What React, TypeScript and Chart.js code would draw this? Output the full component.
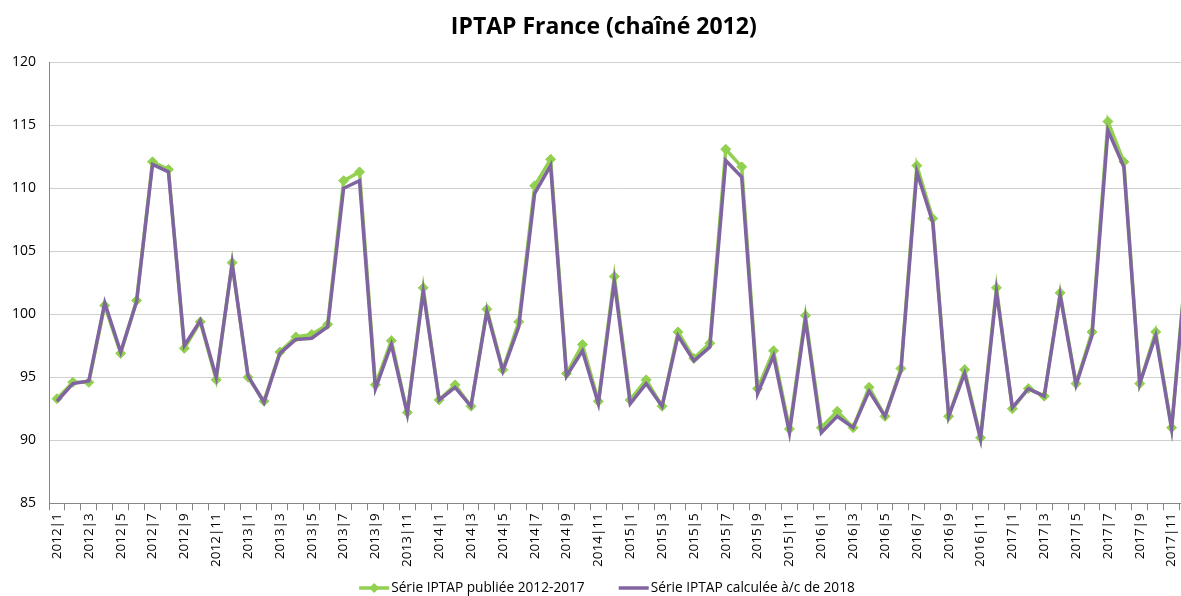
import React, { useEffect, useRef } from "react";
import { Chart, registerables } from "chart.js";

Chart.register(...registerables);

const TITLE = "IPTAP France (chaîné 2012)";
const YEARS = [2012, 2013, 2014, 2015, 2016, 2017];
const MONTHS = [1, 2, 3, 4, 5, 6, 7, 8, 9, 10, 11, 12];
const CATEGORIES = YEARS.flatMap((y) => MONTHS.map((m) => `${y}|${m}`));

const SERIES_PUBLISHED_LABEL = "Série IPTAP publiée 2012-2017";
const SERIES_PUBLISHED = [
  93.3, 94.6, 94.6, 100.7, 96.9, 101.1, 112.1, 111.5, 97.3, 99.4, 94.8, 104.1,
  95.0, 93.1, 97.0, 98.2, 98.4, 99.2, 110.6, 111.3, 94.4, 97.9, 92.2, 102.1,
  93.2, 94.4, 92.7, 100.4, 95.6, 99.4, 110.2, 112.3, 95.3, 97.6, 93.1, 103.0,
  93.2, 94.8, 92.7, 98.6, 96.5, 97.7, 113.1, 111.7, 94.1, 97.1, 90.9, 99.9,
  91.0, 92.3, 91.0, 94.2, 91.9, 95.7, 111.8, 107.6, 91.9, 95.6, 90.2, 102.1,
  92.5, 94.1, 93.5, 101.7, 94.5, 98.6, 115.3, 112.1, 94.5, 98.6, 91.0, 105.3,
];

const SERIES_CALC_LABEL = "Série IPTAP calculée à/c de 2018";
const SERIES_CALC = [
  93.1, 94.5, 94.7, 100.9, 97.0, 101.0, 111.9, 111.3, 97.5, 99.5, 95.0, 104.0,
  95.1, 93.0, 96.9, 98.0, 98.1, 99.0, 110.0, 110.6, 94.1, 97.6, 92.1, 101.8,
  93.2, 94.2, 92.7, 100.2, 95.5, 99.0, 109.6, 111.8, 95.1, 97.1, 92.9, 102.6,
  92.9, 94.5, 92.7, 98.3, 96.3, 97.4, 112.2, 110.9, 93.7, 96.7, 90.6, 99.6,
  90.6, 91.9, 91.0, 93.9, 91.9, 95.5, 111.3, 107.3, 91.9, 95.3, 90.1, 101.8,
  92.6, 94.1, 93.5, 101.5, 94.4, 98.3, 114.6, 111.7, 94.5, 98.3, 90.9, 105.0,
];

const Y_MIN = 85;
const Y_MAX = 120;
const Y_STEP = 5;

const GREEN = "#92D050";
const PURPLE = "#8064A2";
const FONT = '"Open Sans", "Noto Sans", sans-serif';

const legendPlugin = {
  id: "excelLegend",
  afterDraw(chart: any) {
    const ctx = chart.ctx as CanvasRenderingContext2D;
    const datasets = chart.data.datasets;
    ctx.save();
    ctx.font = `13.7px ${FONT}`;
    ctx.textBaseline = "middle";
    ctx.textAlign = "left";
    const sample = 30;
    const gap = 2;
    const between = 34;
    const widths = datasets.map((d: any) => ctx.measureText(d.label).width);
    const total =
      widths.reduce((a: number, w: number) => a + sample + gap + w, 0) +
      between * (datasets.length - 1);
    let x = chart.width / 2 - total / 2;
    const y = 588;
    datasets.forEach((d: any, i: number) => {
      ctx.strokeStyle = d.borderColor;
      ctx.lineWidth = 3.5;
      ctx.beginPath();
      ctx.moveTo(x, y);
      ctx.lineTo(x + sample, y);
      ctx.stroke();
      if (d.pointRadius > 0) {
        const cx = x + sample / 2;
        const r = 5;
        ctx.fillStyle = d.pointBackgroundColor;
        ctx.beginPath();
        ctx.moveTo(cx, y - r);
        ctx.lineTo(cx + r, y);
        ctx.lineTo(cx, y + r);
        ctx.lineTo(cx - r, y);
        ctx.closePath();
        ctx.fill();
      }
      ctx.fillStyle = "#000";
      ctx.fillText(d.label, x + sample + gap, y);
      x += sample + gap + widths[i] + between;
    });
    ctx.restore();
  },
};

export default function App() {
  const ref = useRef<HTMLCanvasElement | null>(null);

  useEffect(() => {
    if (!ref.current) return;
    const chart = new Chart(ref.current, {
      type: "line",
      data: {
        labels: CATEGORIES,
        datasets: [
          {
            label: SERIES_PUBLISHED_LABEL,
            data: SERIES_PUBLISHED,
            borderColor: GREEN,
            backgroundColor: GREEN,
            pointBackgroundColor: GREEN,
            pointBorderColor: GREEN,
            pointStyle: "rectRot",
            pointRadius: 5,
            pointBorderWidth: 1,
            borderWidth: 3.5,
            tension: 0,
            order: 1,
          },
          {
            label: SERIES_CALC_LABEL,
            data: SERIES_CALC,
            borderColor: PURPLE,
            backgroundColor: PURPLE,
            pointRadius: 0,
            borderWidth: 3.5,
            tension: 0,
            order: 0,
          },
        ],
      },
      options: {
        animation: false,
        responsive: false,
        devicePixelRatio: 1,
        layout: { autoPadding: false, padding: { left: 12, right: 18.5, top: 0, bottom: 26 } },
        plugins: {
          legend: { display: false },
          tooltip: { enabled: false },
          title: {
            display: true,
            text: TITLE,
            color: "#000",
            font: { family: FONT, size: 23, weight: "bold", lineHeight: 1.2 },
            padding: { top: 14, bottom: 20.7 },
          },
        },
        scales: {
          x: {
            type: "category",
            offset: true,
            afterFit: (scale: any) => {
              scale.paddingLeft = 0;
              scale.paddingRight = 0;
            },
            grid: {
              offset: true,
              drawOnChartArea: false,
              drawTicks: true,
              tickLength: 7,
              color: "#868686",
            },
            border: { display: true, color: "#868686", width: 1 },
            ticks: {
              autoSkip: false,
              minRotation: 90,
              maxRotation: 90,
              padding: 3,
              color: "#000",
              font: { family: FONT, size: 13.5 },
              callback: function (this: any, _v: any, index: number) {
                const lbl = CATEGORIES[index];
                const m = Number(lbl.split("|")[1]);
                return m % 2 === 1 ? lbl : "";
              },
            },
          },
          y: {
            min: Y_MIN,
            max: Y_MAX,
            afterFit: (scale: any) => {
              scale.width = scale.width - 13;
            },
            grid: { color: "#d0d0d0", lineWidth: 1, drawTicks: false },
            border: { display: true, color: "#868686", width: 1 },
            ticks: {
              stepSize: Y_STEP,
              padding: 13,
              color: "#000",
              font: { family: FONT, size: 14 },
            },
          },
        },
      },
      plugins: [legendPlugin],
    });
    return () => chart.destroy();
  }, []);

  return (
    <div
      style={{
        position: "fixed",
        left: 0,
        top: 0,
        width: 1214,
        height: 596,
        background: "#fff",
      }}
    >
      <canvas ref={ref} width={1214} height={596} style={{ display: "block" }} />
    </div>
  );
}
